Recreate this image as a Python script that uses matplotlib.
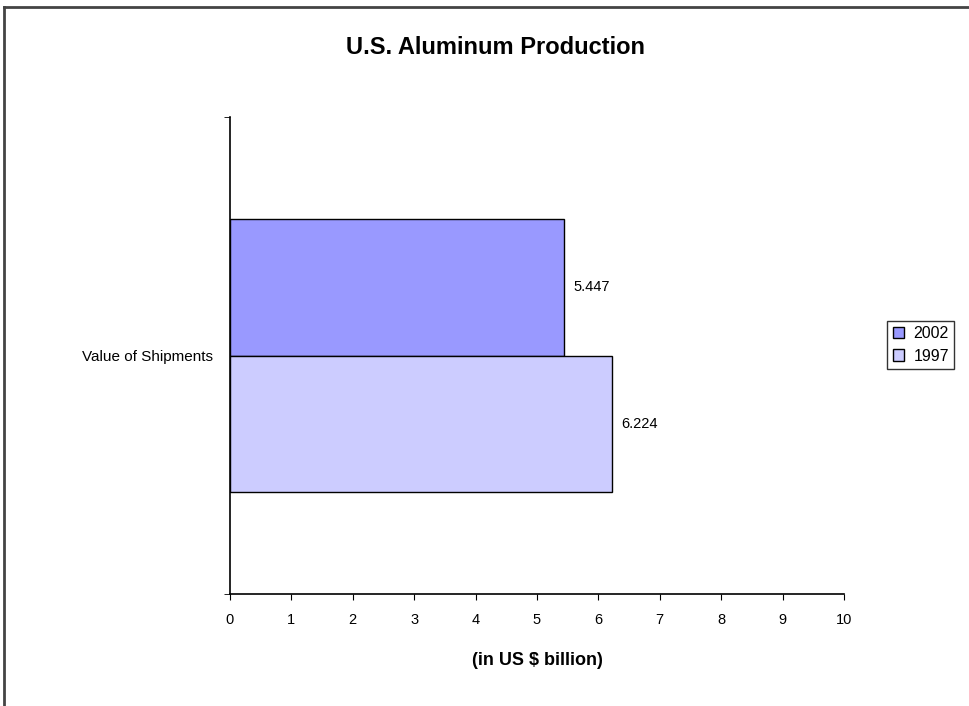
import matplotlib.pyplot as plt
from matplotlib.lines import Line2D

plt.rcParams['font.family'] = ['Liberation Sans', 'DejaVu Sans']

category = 'Value of Shipments'
years = ['2002', '1997']
values = [5.447, 6.224]
colors = ['#9999FF', '#CCCCFF']
x_ticks = list(range(0, 11))

fig = plt.figure(figsize=(9.7, 7.06), dpi=100)
ax = fig.add_axes([0.2371, 0.1586, 0.633, 0.6756])

bar_h = 0.574
offsets = [bar_h / 2, -bar_h / 2]
for year, val, col, off in zip(years, values, colors, offsets):
    ax.barh(off, val, height=bar_h, color=col, edgecolor='black', linewidth=1, label=year)
    ax.text(val + 0.15, off, f'{val:.3f}', va='center', ha='left', fontsize=10.5)

ax.set_xlim(0, 10)
ax.set_ylim(-1, 1)
ax.set_xticks(x_ticks)
ax.set_xticklabels([str(t) for t in x_ticks], fontsize=10.5)
ax.set_yticks([0])
ax.set_yticklabels([category], fontsize=11)
ax.set_yticks([-1, 1], minor=True)
ax.tick_params(axis='y', which='major', length=0, pad=12)
ax.tick_params(axis='y', which='minor', length=4, direction='out')
ax.tick_params(axis='x', length=4, direction='out', pad=10)
for s in ['top', 'right']:
    ax.spines[s].set_visible(False)
for s in ['left', 'bottom']:
    ax.spines[s].set_linewidth(1.2)

ax.set_xlabel('(in US $ billion)', fontsize=13, fontweight='bold', labelpad=18)
fig.text(0.511, 0.933, 'U.S. Aluminum Production', ha='center', va='center',
         fontsize=17, fontweight='bold')

leg = ax.legend(loc='center left', bbox_to_anchor=(1.07, 0.522), frameon=True,
                fancybox=False, edgecolor='black', fontsize=11.5,
                handlelength=0.7, handleheight=0.7, handletextpad=0.6,
                borderpad=0.35, labelspacing=0.45, borderaxespad=0)
leg.get_frame().set_linewidth(1)

# chart area border (top and left visible)
fig.add_artist(Line2D([4 / 970, 1], [1 - 7 / 706, 1 - 7 / 706], transform=fig.transFigure,
                      color='#444444', linewidth=2))
fig.add_artist(Line2D([4 / 970, 4 / 970], [0, 1 - 7 / 706], transform=fig.transFigure,
                      color='#444444', linewidth=2))

fig.savefig('out.png', dpi=100)
